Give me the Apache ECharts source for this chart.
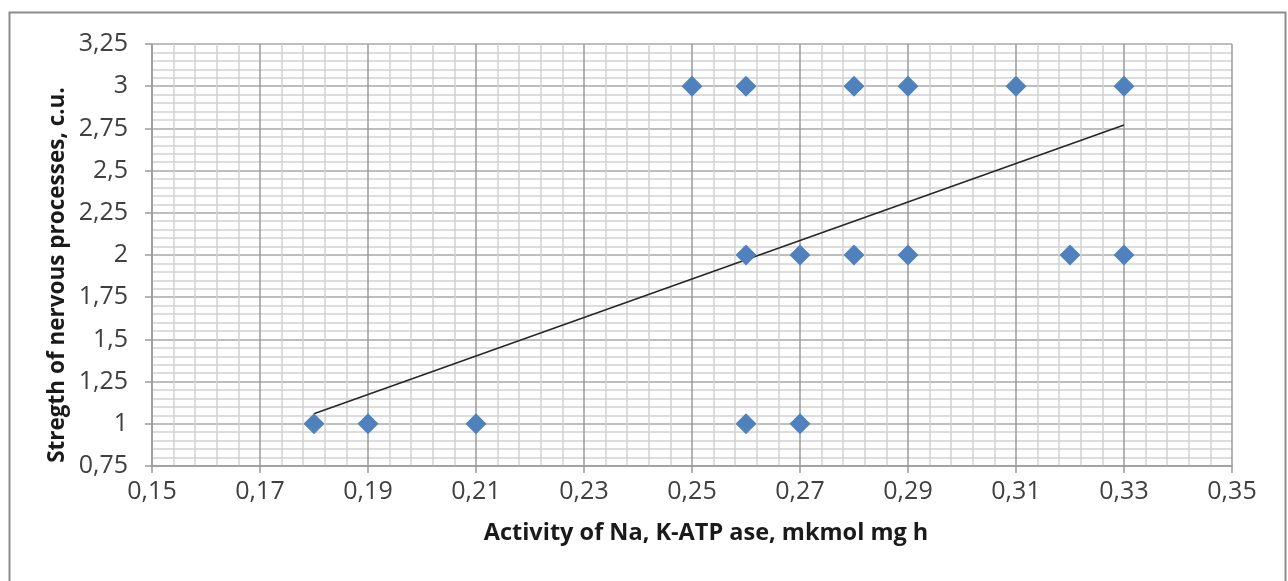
<!DOCTYPE html>
<html>
<head>
<meta charset="utf-8">
<script src="https://cdn.jsdelivr.net/npm/echarts@6/dist/echarts.min.js"></script>
<style>
html,body{margin:0;padding:0;background:#fff;}
#c{width:1288px;height:581px;}
</style>
</head>
<body>
<div id="c"></div>
<script>
// Data
const activity = [0.18, 0.19, 0.21, 0.26, 0.27, 0.26, 0.27, 0.28, 0.29, 0.32, 0.33, 0.25, 0.26, 0.28, 0.29, 0.31, 0.33];
const strength = [1, 1, 1, 1, 1, 2, 2, 2, 2, 2, 2, 3, 3, 3, 3, 3, 3];
const trendX = [0.18, 0.33];
const trendY = [1.06, 2.77];
const xTitle = 'Activity of Na, K-ATP ase, mkmol mg h';
const yTitle = 'Stregth of nervous processes, c.u.';

const points = activity.map((x, i) => [x, strength[i]]);
const trend = trendX.map((x, i) => [x, trendY[i]]);

const FONT = 'Open Sans';
const chart = echarts.init(document.getElementById('c'));
chart.setOption({
  animation: false,
  backgroundColor: '#fff',
  graphic: [
    {
      type: 'rect', left: 7, top: 10, z: -1, silent: true,
      shape: { width: 1276, height: 590 },
      style: { fill: 'none', stroke: '#8c8c8c', lineWidth: 2 }
    },
    {
      type: 'text', x: 706, y: 533, z: 10,
      style: { text: xTitle, fontFamily: FONT, fontSize: 23.5, fontWeight: 'bold', fill: '#1a1a1a',
        align: 'center', verticalAlign: 'middle' }
    },
    {
      type: 'text', x: 58, y: 275, rotation: Math.PI / 2, z: 10,
      style: { text: yTitle, fontFamily: FONT, fontSize: 22.5, fontWeight: 'bold', fill: '#1a1a1a',
        align: 'center', verticalAlign: 'middle' }
    }
  ],
  grid: { left: 152, right: 56, top: 44, bottom: 115 },
  xAxis: {
    type: 'value', min: 0.15, max: 0.35, interval: 0.02,
    axisLine: { show: true, lineStyle: { color: '#9a9a9a', width: 1.5 } },
    axisTick: { show: true, length: 7, lineStyle: { color: '#9a9a9a', width: 1.5 } },
    axisLabel: { fontFamily: FONT, fontSize: 25, color: '#404040', margin: 13,
      formatter: v => v.toFixed(2).replace('.', ',') },
    splitLine: { show: true, lineStyle: { color: '#9a9a9a', width: 1.5 } },
    minorTick: { show: false, splitNumber: 5 },
    minorSplitLine: { show: true, lineStyle: { color: '#d2d2d2', width: 1.5 } }
  },
  yAxis: {
    type: 'value', min: 0.75, max: 3.25, interval: 0.25,
    axisLine: { show: true, lineStyle: { color: '#9a9a9a', width: 1.5 } },
    axisTick: { show: true, length: 7, lineStyle: { color: '#9a9a9a', width: 1.5 } },
    axisLabel: { fontFamily: FONT, fontSize: 25, color: '#404040', margin: 24,
      formatter: v => String(+v.toFixed(2)).replace('.', ',') },
    splitLine: { show: true, lineStyle: { color: '#a8a8a8', width: 1.5 } },
    minorTick: { show: false, splitNumber: 5 },
    minorSplitLine: { show: true, lineStyle: { color: '#d2d2d2', width: 1.5 } }
  },
  series: [
    {
      type: 'line', data: trend, symbol: 'none', z: 3,
      lineStyle: { color: '#262626', width: 1.5 }
    },
    {
      type: 'scatter', data: points, symbol: 'diamond', symbolSize: 21, z: 4,
      itemStyle: { color: '#4f81bd', opacity: 1 }
    }
  ]
});
</script>
</body>
</html>
